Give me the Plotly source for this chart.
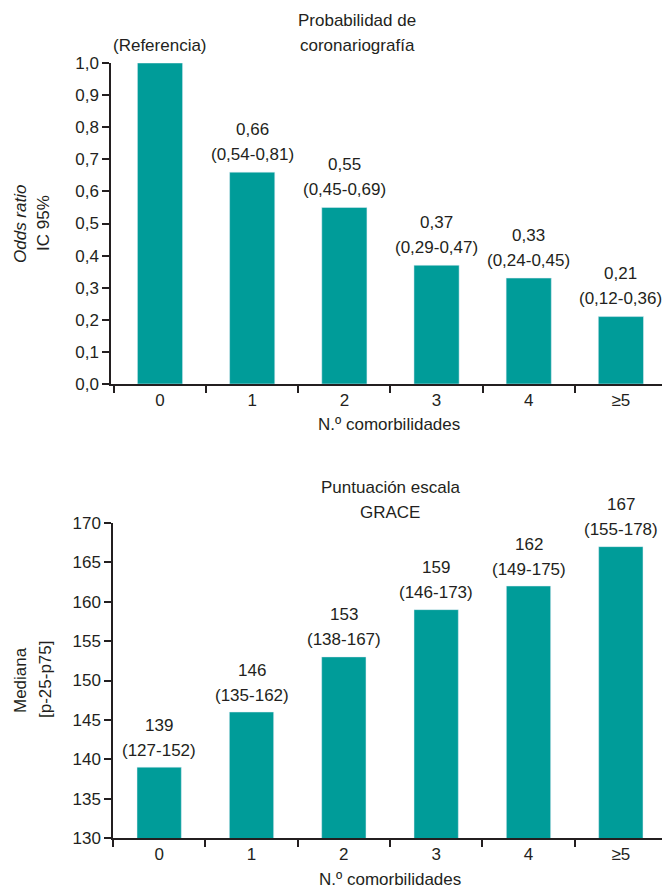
import plotly.graph_objects as go

categories = ["0", "1", "2", "3", "4", "≥5"]

# Top chart: odds ratio of coronariography
or_values = [1.0, 0.66, 0.55, 0.37, 0.33, 0.21]
or_value_labels = ["", "0,66", "0,55", "0,37", "0,33", "0,21"]
or_ci_labels = ["(Referencia)", "(0,54-0,81)", "(0,45-0,69)", "(0,29-0,47)", "(0,24-0,45)", "(0,12-0,36)"]

# Bottom chart: GRACE score median
grace_values = [139, 146, 153, 159, 162, 167]
grace_value_labels = ["139", "146", "153", "159", "162", "167"]
grace_ci_labels = ["(127-152)", "(135-162)", "(138-167)", "(146-173)", "(149-175)", "(155-178)"]

TEAL = "#009c99"
INK = "#231f20"
FONT = "Liberation Sans, Arial, sans-serif"
FS = 17

OFF = 8  # page body margin
W, H = 670 - OFF, 890 - OFF
ML, MR, MT = 111 - OFF, 3, 63 - OFF
MB = H - (838 - OFF)
PH = H - MT - MB
PW = W - ML - MR


def py(ref_px):
    return (H - MB - (ref_px - OFF)) / PH


def pxx(ref_px):
    return (ref_px - OFF - ML) / PW


fig = go.Figure()
fig.add_trace(go.Bar(x=categories, y=or_values, marker_color=TEAL, width=0.49,
                     xaxis="x", yaxis="y", showlegend=False, hoverinfo="skip"))
fig.add_trace(go.Bar(x=categories, y=grace_values, marker_color=TEAL, width=0.48,
                     xaxis="x2", yaxis="y2", showlegend=False, hoverinfo="skip"))

axis_common = dict(showline=True, linecolor=INK, linewidth=1.5, ticks="outside",
                   tickcolor=INK, tickwidth=1.5, ticklen=7, showgrid=False, zeroline=False,
                   tickfont=dict(family=FONT, size=FS, color=INK))

fig.update_layout(
    width=W, height=H,
    margin=dict(l=ML, r=MR, t=MT, b=MB),
    paper_bgcolor="white", plot_bgcolor="white",
    separators=",.",
    font=dict(family=FONT, size=FS, color=INK),
    xaxis=dict(domain=[0, 1], anchor="y", type="category", tickson="boundaries",
               categoryorder="array", categoryarray=categories, **axis_common),
    yaxis=dict(domain=[py(384), 1], anchor="x", range=[0, 1.0], dtick=0.1,
               tickformat=".1f", **axis_common),
    xaxis2=dict(domain=[pxx(113), 1], anchor="y2", type="category", tickson="boundaries",
                categoryorder="array", categoryarray=categories, **axis_common),
    yaxis2=dict(domain=[0, py(523)], anchor="x2", range=[130, 170], dtick=5,
                **axis_common),
)

ann = []
tf = dict(family=FONT, size=FS, color=INK)
for c, v, l1, l2 in zip(categories, or_values, or_value_labels, or_ci_labels):
    ann.append(dict(x=c, y=v, xref="x", yref="y", text=l2, showarrow=False,
                    yanchor="middle", yshift=18, font=tf))
    if l1:
        ann.append(dict(x=c, y=v, xref="x", yref="y", text=l1, showarrow=False,
                        yanchor="middle", yshift=43, font=tf))
for c, v, l1, l2 in zip(categories, grace_values, grace_value_labels, grace_ci_labels):
    ann.append(dict(x=c, y=v, xref="x2", yref="y2", text=l2, showarrow=False,
                    yanchor="middle", yshift=17, font=tf))
    ann.append(dict(x=c, y=v, xref="x2", yref="y2", text=l1, showarrow=False,
                    yanchor="middle", yshift=42, font=tf))


def txt(x, y, t, angle=0):
    ann.append(dict(x=pxx(x), y=py(y), xref="paper", yref="paper", text=t,
                    showarrow=False, xanchor="center", yanchor="middle",
                    textangle=angle, font=tf))


# Chart titles
txt(357, 20, "Probabilidad de")
txt(357, 45, "coronariografía")
txt(390, 487, "Puntuación escala")
txt(390, 512, "GRACE")
# X axis titles
txt(389, 424, "N.º comorbilidades")
txt(390, 879, "N.º comorbilidades")
# Y axis titles
txt(20, 224, "<i>Odds ratio</i>", -90)
txt(44, 223, "IC 95%", -90)
txt(20, 680, "Mediana", -90)
txt(45, 679, "[p-25-p75]", -90)

fig.update_layout(annotations=ann)
fig.write_html("out.html")
